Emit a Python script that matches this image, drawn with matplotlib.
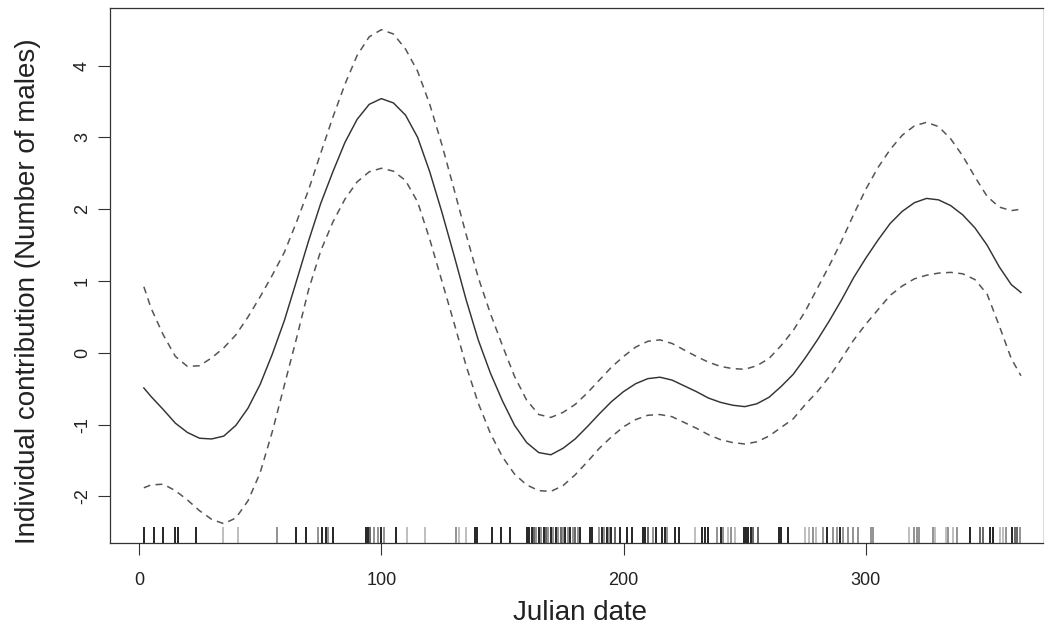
import matplotlib
matplotlib.use('Agg')
import matplotlib.pyplot as plt

plt.rcParams['font.family'] = ['Liberation Sans', 'DejaVu Sans']
plt.rcParams['axes.unicode_minus'] = False

# ---------------------- DATA

days = [2, 5, 10, 15, 20, 25, 30, 35, 40, 45, 50, 55, 60, 65, 70, 75, 80, 85, 90, 95,
        100, 105, 110, 115, 120, 125, 130, 135, 140, 145, 150, 155, 160, 165, 170, 175,
        180, 185, 190, 195, 200, 205, 210, 215, 220, 225, 230, 235, 240, 245, 250, 255,
        260, 265, 270, 275, 280, 285, 290, 295, 300, 305, 310, 315, 320, 325, 330, 335,
        340, 345, 350, 355, 360, 364]

fit = [-0.49, -0.61, -0.79, -0.98, -1.11, -1.19, -1.20, -1.16, -1.01, -0.77, -0.44, -0.02,
       0.45, 1.00, 1.56, 2.08, 2.52, 2.93, 3.25, 3.46, 3.54, 3.48, 3.31, 3.00, 2.52, 1.96,
       1.36, 0.74, 0.18, -0.28, -0.67, -1.01, -1.25, -1.39, -1.42, -1.33, -1.20, -1.03,
       -0.85, -0.68, -0.54, -0.43, -0.36, -0.34, -0.38, -0.46, -0.54, -0.63, -0.69, -0.73,
       -0.75, -0.71, -0.62, -0.47, -0.30, -0.07, 0.18, 0.45, 0.74, 1.05, 1.32, 1.57, 1.80,
       1.97, 2.09, 2.15, 2.13, 2.05, 1.92, 1.74, 1.50, 1.20, 0.95, 0.84]

upper = [0.92, 0.62, 0.25, -0.05, -0.19, -0.18, -0.07, 0.07, 0.25, 0.50, 0.78, 1.08, 1.40,
         1.82, 2.27, 2.78, 3.28, 3.74, 4.14, 4.40, 4.50, 4.44, 4.23, 3.92, 3.46, 2.90, 2.28,
         1.65, 1.05, 0.55, 0.10, -0.33, -0.66, -0.86, -0.90, -0.83, -0.72, -0.56, -0.38,
         -0.20, -0.05, 0.08, 0.16, 0.18, 0.13, 0.04, -0.05, -0.13, -0.19, -0.22, -0.23,
         -0.18, -0.08, 0.10, 0.31, 0.58, 0.90, 1.22, 1.56, 1.93, 2.28, 2.58, 2.83, 3.03,
         3.16, 3.21, 3.15, 2.98, 2.74, 2.45, 2.18, 2.03, 1.98, 2.00]

lower = [-1.88, -1.84, -1.83, -1.92, -2.05, -2.20, -2.32, -2.38, -2.30, -2.06, -1.67, -1.10,
         -0.45, 0.20, 0.88, 1.42, 1.82, 2.14, 2.38, 2.52, 2.57, 2.53, 2.40, 2.10, 1.58, 1.00,
         0.42, -0.18, -0.70, -1.12, -1.45, -1.69, -1.84, -1.92, -1.93, -1.85, -1.70, -1.52,
         -1.33, -1.17, -1.03, -0.93, -0.87, -0.86, -0.89, -0.97, -1.05, -1.14, -1.21, -1.25,
         -1.27, -1.24, -1.16, -1.04, -0.92, -0.72, -0.54, -0.33, -0.08, 0.18, 0.40, 0.60,
         0.80, 0.93, 1.03, 1.08, 1.11, 1.12, 1.10, 1.02, 0.82, 0.38, -0.08, -0.32]

# observation dates for the rug and their grey level (0 = black)
rug_days = [2, 6, 10, 15, 16, 23.5, 34.5, 41, 57, 65, 69, 74, 75.5, 77, 78, 80,
            93.5, 94.5, 95.5, 97, 98.5, 100, 101, 106, 110.5, 118, 131, 132, 135,
            138.5, 139.5, 145.5, 149.5, 153, 160, 161, 162, 163, 164, 165, 166, 167,
            168, 169, 170, 171, 172, 173, 174, 175, 176, 177, 178, 179, 180, 181, 182,
            186, 187, 190, 191, 192, 193, 194, 195, 196.5, 198.5, 201.5, 203.5, 208,
            209, 210, 212, 213.5, 216, 217, 218, 221.3, 223, 229.5, 232.5, 233.5, 234.8,
            238.5, 240, 241, 243, 244.5, 246, 249.5, 250.5, 251.5, 252.5, 253.5, 255.5,
            264, 265, 268, 275, 276.5, 278, 279.5, 282.5, 284, 286.5, 288, 289.5, 290.5,
            292.5, 294.7, 296.8, 302, 303, 318, 320, 321, 322, 327.7, 328.5, 333, 334,
            336, 337.5, 343, 347, 348.4, 351.2, 352.5, 355.3, 356.6, 358, 360.3, 361.5,
            362.5, 363.6]
rug_shade = [0, 0, 0, 0, 0, 0, .7, .7, .5, 0, 0, .5, 0, 0, .5, 0,
             0, 0, .3, .5, .5, 0, .5, 0, .7, .7, .5, .7, .7,
             0, 0, 0, 0, 0, 0, 0, 0, .3, .5, 0, .5, 0,
             .3, .5, 0, .5, 0, .5, .3, .5, 0, .5, 0, .5, .3, .5, 0,
             0, 0, .5, 0, .5, 0, .5, 0, .3, 0, 0, 0, 0,
             0, .3, .5, 0, 0, 0, .5, 0, 0, .7, 0, 0, 0,
             .5, 0, .5, .7, .5, .7, 0, 0, 0, 0, .3, .3,
             0, 0, 0, .7, .7, .5, .7, .5, 0, .5, .5, 0, .5,
             .5, .5, .5, .5, .5, .7, .5, .5, .5, .5, .7, .7, .5,
             .7, .5, 0, .3, .3, 0, 0, .7, .7, .5, 0, .3,
             .3, .5]

x_ticks = [0, 100, 200, 300]
y_ticks = [-2, -1, 0, 1, 2, 3, 4]

# ---------------------- PLOT

fig = plt.figure(figsize=(10.53, 6.43), dpi=100)
ax = fig.add_axes([110 / 1053, 1 - 543 / 643, 933 / 1053, 535 / 643])

ax.plot(days, fit, color='#333333', lw=1.05)
ax.plot(days, upper, color='#555555', lw=1.1, dashes=(4.5, 3.5))
ax.plot(days, lower, color='#555555', lw=1.1, dashes=(4.5, 3.5))

ax.vlines(rug_days, 0, 0.03, transform=ax.get_xaxis_transform(),
          colors=[str(s) for s in rug_shade], lw=1.2)

ax.set_xlim(-11.97, 373.1)
ax.set_ylim(-2.649, 4.802)

ax.set_xticks(x_ticks)
ax.set_yticks(y_ticks)
ax.tick_params(axis='both', direction='out', length=8.6, width=0.8, color='#333333',
               labelsize=13, labelcolor='#222222')
ax.tick_params(axis='x', pad=12)
ax.tick_params(axis='y', pad=5, labelrotation=90)
for lab in ax.get_yticklabels():
    lab.set_va('center')

for side in ['left', 'bottom', 'top']:
    ax.spines[side].set_color('#333333')
    ax.spines[side].set_linewidth(0.9)
ax.spines['right'].set_color('#dddddd')

ax.set_xlabel('Julian date', fontsize=20, color='#222222')
ax.set_ylabel('Individual contribution (Number of males)', fontsize=20, color='#222222')
ax.xaxis.set_label_coords((580 - 110) / 933, -0.1065)
ax.yaxis.set_label_coords(-0.074, 0.47)

fig.savefig('out.png', dpi=100)
plt.close()
